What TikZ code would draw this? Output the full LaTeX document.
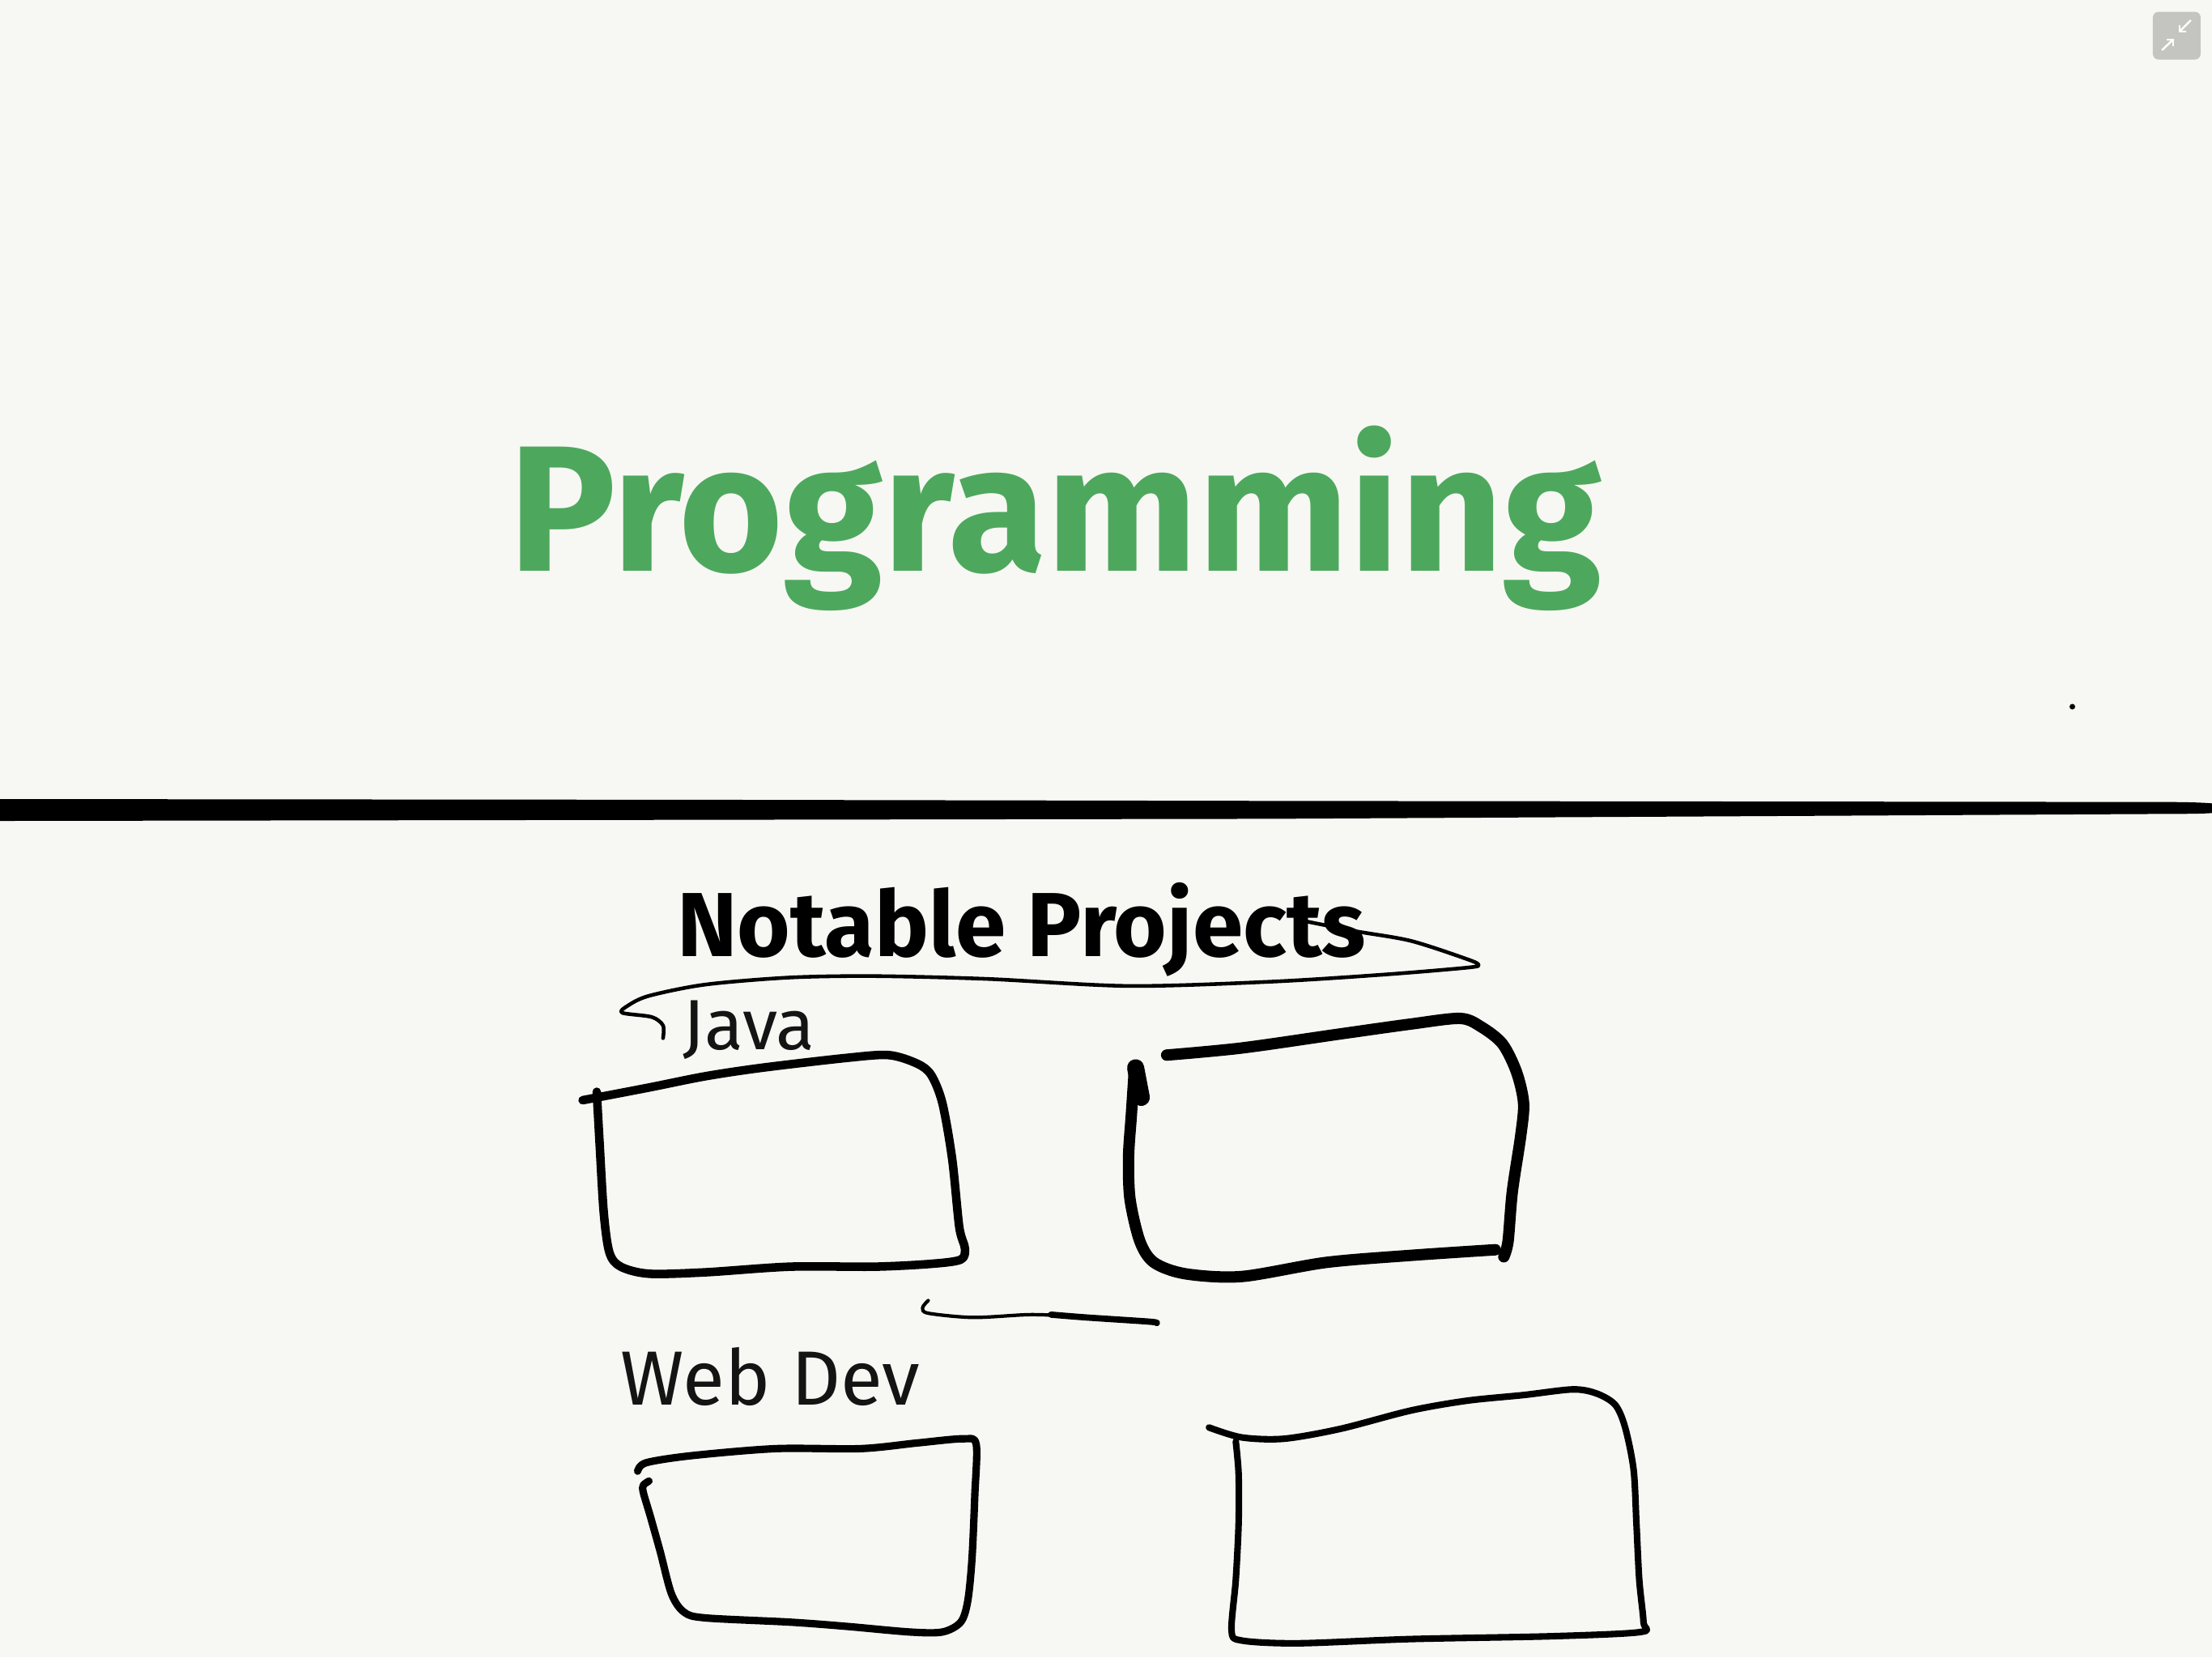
\documentclass[tikz,border=0pt]{standalone}
\usepackage{fontspec}
\setmainfont{Fira Sans}
\begin{document}
\definecolor{paper}{HTML}{F7F8F3}
\definecolor{ink}{HTML}{141414}
\definecolor{leaf}{HTML}{4DA85E}
\definecolor{btn}{HTML}{C4C5C0}
\tikzset{
  pen/.style={draw=black, line cap=round, line join=round},
  hand/.style={inner sep=0pt, anchor=base},
}
\begin{tikzpicture}[x=0.017423cm, y=-0.017423cm]
  % page
  \fill[paper] (0,0) rectangle (1568,1175);
  \useasboundingbox (0,0) rectangle (1568,1175);

  % window button, top right
  \node (zoomtoggle) [fill=btn, rounded corners=2pt, minimum size=0.59cm, inner sep=0pt] at (1543,25.3) {};
  \draw[white, line width=0.7pt] (1532.5,35.6) -- (1540.5,28);
  \draw[white, line width=0.7pt] (1536,28) -- (1540.5,28) -- (1540.5,32.5);
  \draw[white, line width=0.7pt] (1553,14.3) -- (1545,22.4);
  \draw[white, line width=0.7pt] (1545,17.9) -- (1545,22.4) -- (1549.5,22.4);

  % heading
  \node[hand, text=leaf, font=\bfseries\fontsize{63}{70}\selectfont] (heading) at (748,405) {Programming};

  % stray dot
  \fill[black] (1469,501) circle (2);

  % separator line, running off both edges
  \fill[black] (-5,566.5) -- (500,567) -- (900,567.8) -- (1540,568.6)
    .. controls (1562,568.8) and (1568,569.5) .. (1572,570)
    -- (1572,576) .. controls (1568,576.5) and (1562,577) .. (1540,577)
    -- (900,580.5) -- (500,581.2) -- (-5,582) -- cycle;

  % section title and its bracket
  \node[hand, text=black, font=\bfseries\fontsize{32}{38}\selectfont] (projects) at (724,678) {Notable Projects};
  \draw[pen, line width=1.3pt] plot[smooth, tension=0.5] coordinates {
    (920,652) (960,660) (1000,667) (1040,680) (1048,684) (1040,686) (980,691)
    (900,696) (800,699) (700,694) (620,692) (560,693) (500,698) (460,706)
    (445,713) (441,718) (462,721) (470,727) (470,736)};

  % Java
  \node[hand, text=ink, font=\fontsize{25}{30}\selectfont] (java) at (531,744) {Java};
  \draw[pen, line width=3pt] plot[smooth, tension=0.5] coordinates {
    (413,780) (460,771) (500,763) (540,757) (600,750) (630,748) (650,754)
    (660,762) (668,782) (675,822) (680,870) (684,885) (681,893) (660,896)
    (620,898) (560,898) (500,902) (460,903) (440,898) (432,888) (428,860)
    (425,810) (423,774)};

  % second project frame
  \draw[pen, line width=4pt] plot[smooth, tension=0.5] coordinates {
    (827,748) (880,743) (950,733) (1000,726) (1035,722) (1050,728) (1065,740)
    (1075,760) (1080,782) (1078,805) (1072,845) (1069,880) (1066,891)};
  \draw[pen, line width=4pt] plot[smooth, tension=0.5] coordinates {
    (1060,886) (1000,890) (940,895) (880,905) (840,903) (818,895) (808,880)
    (801,850) (800,820) (802,790) (804,760)};
  \draw[pen, line width=6pt] (805,757) -- (809,778);

  % link between the rows, thickening to the right
  \draw[pen, line width=1.2pt] plot[smooth, tension=0.5] coordinates {
    (658,922) (654,927) (658,931) (690,934) (730,932) (760,933)};
  \draw[pen, line width=2.2pt] plot[smooth, tension=0.5] coordinates {
    (745,932) (770,934) (815,937) (820,938)};

  % Web Dev
  \node[hand, text=ink, font=\fontsize{27}{32}\selectfont] (webdev) at (546,996) {Web Dev};
  \draw[pen, line width=2.6pt] plot[smooth, tension=0.5] coordinates {
    (452,1043) (458,1037) (490,1032) (550,1027) (610,1027) (650,1023)
    (683,1020) (692,1024) (691,1060) (689,1105) (686,1135) (681,1150)
    (668,1157) (645,1157) (600,1153) (560,1150) (500,1147) (485,1143)
    (476,1130) (468,1100) (461,1075) (456,1058) (456,1053) (460,1050)};

  % fourth project frame
  \draw[pen, line width=2.3pt] plot[smooth, tension=0.5] coordinates {
    (857,1012) (880,1019) (910,1020) (950,1013) (1000,1000) (1040,993)
    (1080,989) (1115,985) (1132,988) (1145,996) (1152,1012) (1158,1042)
    (1160,1080) (1162,1120) (1165,1150) (1163,1157) (1100,1160) (1000,1162)
    (920,1165) (880,1163) (873,1156) (876,1120) (878,1080) (878,1045)
    (876,1022)};
\end{tikzpicture}
\end{document}
